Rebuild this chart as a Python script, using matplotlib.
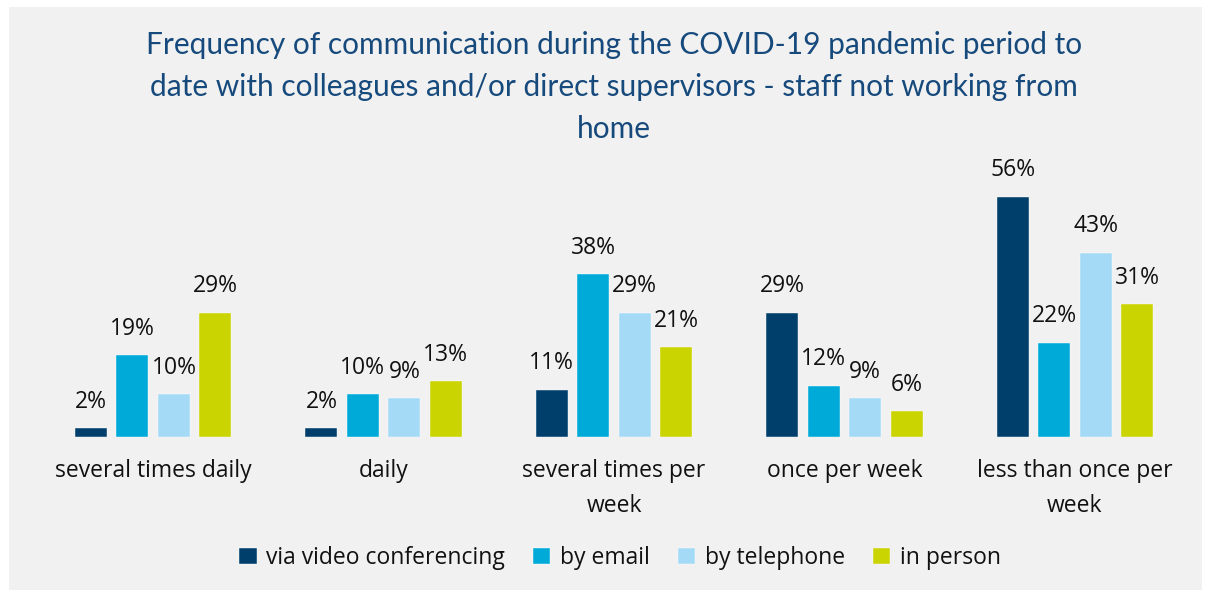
import matplotlib.pyplot as plt
import numpy as np
from matplotlib.patches import Rectangle

categories = ["several times daily", "daily", "several times per\nweek",
              "once per week", "less than once per\nweek"]
series_names = ["via video conferencing", "by email", "by telephone", "in person"]
video = [2, 2, 11, 29, 56]
email = [19, 10, 38, 12, 22]
telephone = [10, 9, 29, 9, 43]
in_person = [29, 13, 21, 6, 31]
colors = ["#003f6b", "#00aad8", "#a4daf6", "#c9d400"]

title = ("Frequency of communication during the COVID-19 pandemic period to\n"
         "date with colleagues and/or direct supervisors - staff not working from\n"
         "home")

plt.rcParams['font.family'] = ['Open Sans', 'DejaVu Sans']

fig = plt.figure(figsize=(12.11, 5.94), dpi=100, facecolor="white")
fig.patches.append(Rectangle((9 / 1211, 4 / 594), 1193 / 1211, 583 / 594,
                             transform=fig.transFigure, facecolor="#f1f1f1",
                             edgecolor="none", zorder=-10))

ax = fig.add_axes([38 / 1211, 157 / 594, 1152 / 1211, 287 / 594])
ax.set_facecolor("none")

x = np.arange(len(categories))
width = 0.139
pitch = 0.18
all_series = [video, email, telephone, in_person]
for i, (vals, name, col) in enumerate(zip(all_series, series_names, colors)):
    pos = x + (i - 1.5) * pitch
    bars = ax.bar(pos, vals, width, color=col, label=name,
                  edgecolor="white", linewidth=0.3)
    for b, v in zip(bars, vals):
        ax.annotate(f"{v}%", (b.get_x() + b.get_width() / 2, v),
                    xytext=(0, 19), textcoords="offset points",
                    ha="center", va="center", fontsize=16.5, color="#111111")

ax.set_xlim(-0.5, len(categories) - 0.5)
ax.set_ylim(0, 66.9)
ax.set_yticks([])
ax.set_xticks(x)
ax.set_xticklabels(categories, fontsize=16.5, color="#111111", linespacing=1.58)
ax.tick_params(axis="x", length=0, pad=16)
for s in ax.spines.values():
    s.set_visible(False)

fig.text(0.507, 1 - 31 / 594, title, ha="center", va="top", fontsize=21.5,
         color="#174a7c", family=["Lato", "DejaVu Sans"], linespacing=1.6)

fig.legend(loc="center", bbox_to_anchor=(0.512, 1 - 558 / 594), ncol=4,
           frameon=False, fontsize=16.5, handlelength=0.75, handleheight=0.75,
           handletextpad=0.4, columnspacing=1.25, labelcolor="#111111")

fig.savefig("out.png", dpi=100, facecolor="white")
